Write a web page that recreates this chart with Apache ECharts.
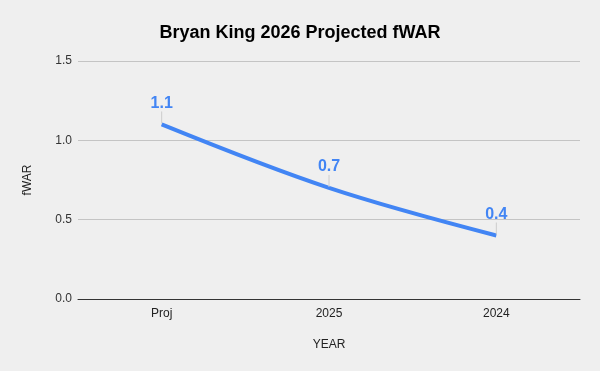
<!DOCTYPE html>
<html><head><meta charset="utf-8">
<script src="https://cdn.jsdelivr.net/npm/echarts@6/dist/echarts.min.js"></script>
<style>html,body{margin:0;padding:0;background:#efefef}#c{width:600px;height:371px}</style>
</head><body><div id="c"></div>
<script>
const categories = ['Proj', '2025', '2024'];
const fwar = [1.1, 0.7, 0.4];
const yTicks = [0, 0.5, 1.0, 1.5];

const chart = echarts.init(document.getElementById('c'));
chart.setOption({
  backgroundColor: '#efefef',
  title: {
    text: 'Bryan King 2026 Projected fWAR',
    left: 'center', top: 19,
    textStyle: { fontFamily: 'Liberation Sans, Arial', fontSize: 18, fontWeight: 'bold', color: '#000' }
  },
  grid: { left: 78, right: 20, top: 61, bottom: 72 },
  xAxis: {
    type: 'category', data: categories, boundaryGap: true,
    name: 'YEAR', nameLocation: 'middle', nameGap: 40,
    nameTextStyle: { fontFamily: 'Liberation Sans, Arial', fontSize: 12, color: '#222' },
    axisLine: { lineStyle: { color: '#333', width: 1 } },
    axisTick: { show: false },
    axisLabel: { fontFamily: 'Liberation Sans, Arial', fontSize: 12, color: '#222', margin: 9 }
  },
  yAxis: {
    type: 'value', min: yTicks[0], max: yTicks[yTicks.length - 1], interval: 0.5,
    name: 'fWAR', nameLocation: 'middle', nameGap: 44,
    nameTextStyle: { fontFamily: 'Liberation Sans, Arial', fontSize: 12, color: '#222' },
    axisLine: { show: false }, axisTick: { show: false },
    axisLabel: { fontFamily: 'Liberation Sans, Arial', fontSize: 12, color: '#333', margin: 6,
      formatter: v => v.toFixed(1) },
    splitLine: { lineStyle: { color: '#c4c4c4' } }
  },
  series: [{
    type: 'line', data: fwar, smooth: 0.35,
    symbol: 'circle', symbolSize: 2, showSymbol: true,
    itemStyle: { color: 'rgba(0,0,0,0)' },
    lineStyle: { color: '#4285F4', width: 4 },
    label: {
      show: true, position: 'top', distance: 2,
      fontFamily: 'Liberation Sans, Arial', fontSize: 16, fontWeight: 'bold', color: '#4285F4',
      formatter: p => p.value.toFixed(1)
    },
    labelLayout: { dy: -10 },
    labelLine: { show: true, lineStyle: { color: '#cccccc', width: 1 } },
    emphasis: { disabled: true }
  }]
});
</script></body></html>
